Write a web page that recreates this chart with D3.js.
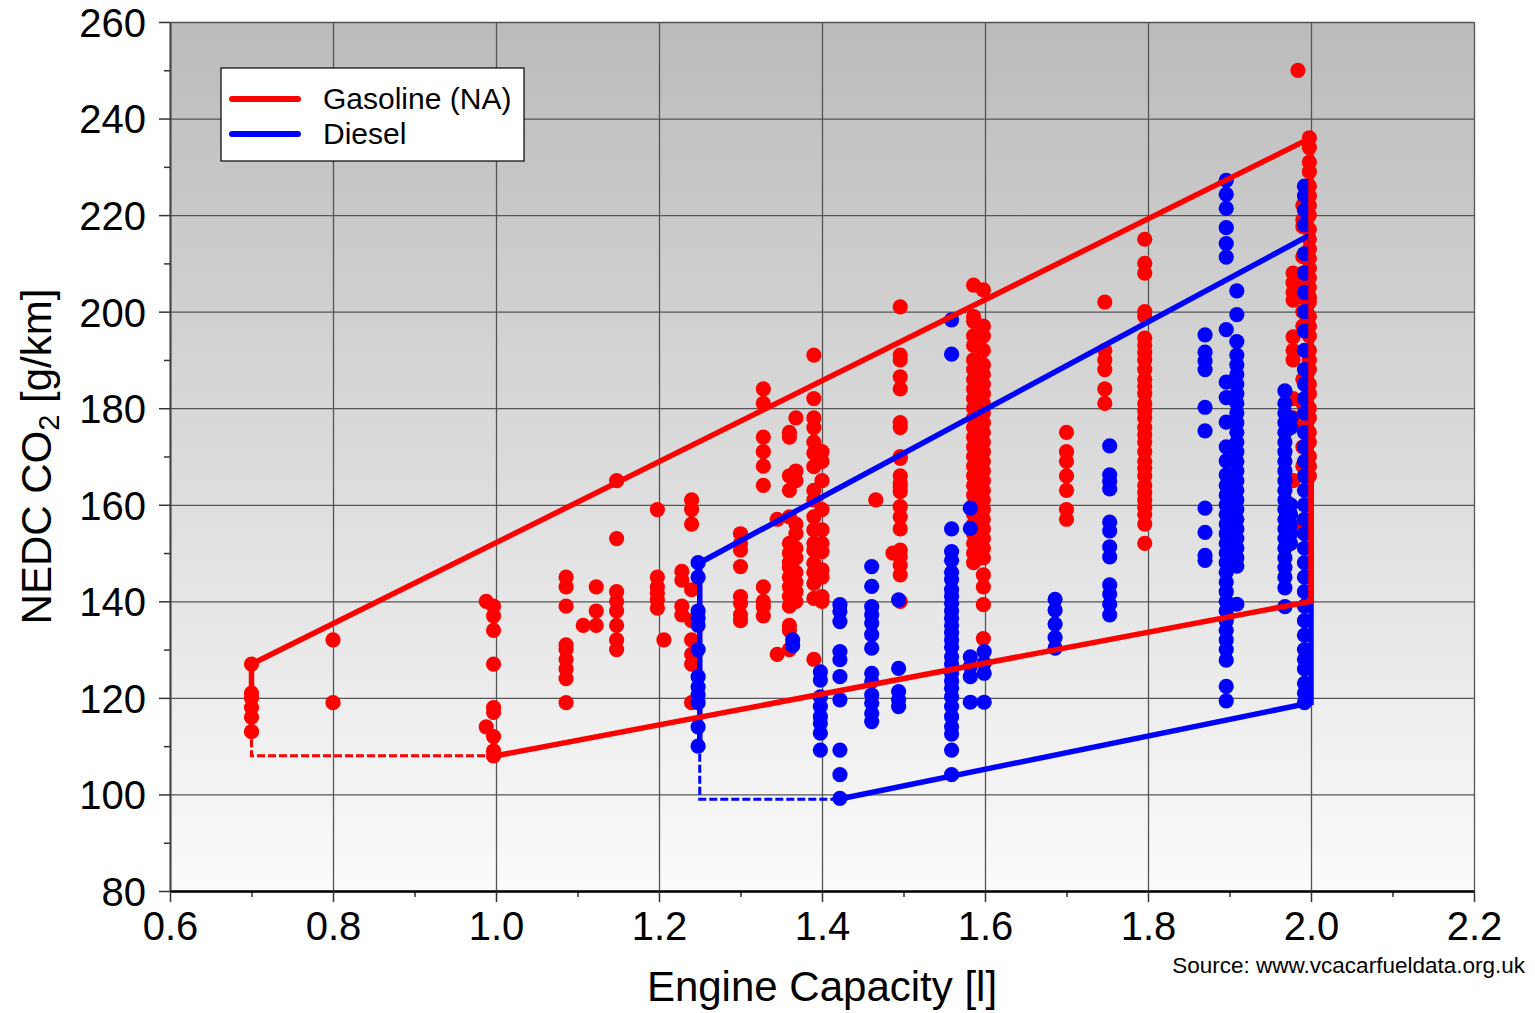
<!DOCTYPE html>
<html>
<head>
<meta charset="utf-8">
<script src="https://cdn.jsdelivr.net/npm/d3@7"></script>
<style>
  html, body { margin: 0; background: #fff; }
  svg { display: block; font-family: "Liberation Sans", Arial, sans-serif; }
</style>
</head>
<body>
<svg id="chart" width="1535" height="1013"></svg>
<script>
// Axis ticks
const xTicks = [0.6, 0.8, 1.0, 1.2, 1.4, 1.6, 1.8, 2.0, 2.2]
const xMinorTicks = [0.7, 0.9, 1.1, 1.3, 1.5, 1.7, 1.9, 2.1]
const yTicks = [80, 100, 120, 140, 160, 180, 200, 220, 240, 260]
const yMinorTicks = [90, 110, 130, 150, 170, 190, 210, 230, 250]

// Gasoline (NA) models: [engine capacity, CO2 values]
const gasolineColumns = [
  [0.70, [127, 121, 120, 118, 116, 113]],
  [0.80, [132, 119]],
  [0.988, [140, 114]],
  [0.997, [139, 137, 134, 127, 118, 117, 112, 109, 108]],
  [1.086, [145, 143, 139, 131, 130, 128, 126, 124, 119]],
  [1.107, [135]],
  [1.123, [143, 138, 135]],
  [1.148, [165, 153, 142, 140, 138, 135, 132, 130]],
  [1.198, [159, 145, 143, 141.7, 140.3, 138.6]],
  [1.206, [132]],
  [1.228, [146.2, 144.4, 139, 137.2]],
  [1.24, [161, 159, 156, 142.4, 136, 132, 129, 127, 119]],
  [1.30, [154, 152, 150.6, 147.2, 141, 139.6, 137.2, 136]],
  [1.328, [184, 181, 174, 171, 168, 164, 143, 140, 138.9, 137]],
  [1.345, [157, 129]],
  [1.36, [175, 174, 166, 163, 157.5, 152, 150, 148, 147, 145, 143, 141, 139, 135, 134, 130]],
  [1.368, [178, 167, 165, 156, 154, 151, 149, 146, 144, 142, 140]],
  [1.39, [191, 182, 178, 176, 173, 170.7, 167.9, 163, 161, 157.5, 154.8, 150.6, 147.9, 152, 146, 143.7, 140.6, 128]],
  [1.40, [171, 169, 165, 159, 154.8, 152, 150.3, 146.5, 145, 141, 140]],
  [1.466, [161]],
  [1.487, [150]],
  [1.496, [201, 191, 190, 186.5, 184, 177, 176, 170, 169.6, 166, 164.5, 163.7, 162.7, 159.6, 157.5, 155, 150.6, 149.3, 147.5, 145.5, 140]],
  [1.586, [205.5, 199, 198, 195, 193, 190, 188, 186, 184, 182, 180, 178, 176, 174, 172, 170, 168, 166, 164, 162, 160, 158, 156, 154, 152, 150, 148]],
  [1.598, [204.5, 197, 195, 192, 189, 187, 185, 183, 181, 179, 177, 175, 173, 171, 169, 167, 165, 163, 161, 159, 157, 155, 153, 151, 149, 145.5, 143, 139.3, 132.3]],
  [1.70, [175, 171, 169, 166, 163, 159, 157]],
  [1.747, [202, 192, 190, 188, 184, 181]],
  [1.796, [215, 210, 208, 200, 199, 194.5, 193, 191.5, 190, 188, 186, 184.5, 183, 181, 179.5, 178, 176, 174.5, 173, 171, 169, 167.5, 166, 164, 162.5, 161, 159.5, 158, 156, 152]],
  [1.984, [250]],
  [1.978, [208, 206, 204, 202.4, 194.8, 192, 190, 182, 178, 165]],
  [1.99, [222, 219, 217.6, 211.4, 208, 205, 203, 200, 197, 186, 181, 176, 172, 168, 155]],
  [1.998, [236, 234, 231, 229, 226, 224, 222, 220, 217, 215, 213, 211, 209, 207, 205, 203, 202, 199, 197, 195, 192, 190, 188, 185, 183, 180, 178, 175, 173, 170, 168, 166]]
]

// Diesel models: [engine capacity, CO2 values]
const dieselColumns = [
  [1.248, [148, 145, 138, 136.5, 135, 130, 124.4, 122.3, 120.6, 119, 114, 110]],
  [1.364, [132, 130.8]],
  [1.398, [125.4, 123.7, 120.2, 118.2, 116.1, 114.7, 112.7, 109.2]],
  [1.422, [139.3, 137.9, 135.8, 129.6, 127.9, 124.4, 119.6, 109.2, 104.1, 99.2]],
  [1.461, [147.2, 143.1, 138.9, 137.2, 135.5, 133.1, 130.3, 125.1, 123.4, 120.6, 118.9, 116.8, 115.1]],
  [1.494, [140.3, 126.1, 121.3, 119.6, 118.2]],
  [1.559, [198.3, 191.2, 155, 150.3, 148.5, 146, 144.5, 142.4, 141, 139.6, 138, 136.5, 135, 133.5, 132, 130.5, 128.5, 127, 125.1, 123.5, 122, 120.2, 118.2, 116.1, 114, 112.5, 109.2, 104.1]],
  [1.582, [159.3, 155.1, 128.5, 126.5, 124.4, 119.1]],
  [1.599, [129.6, 127.2, 125.1, 119.1]],
  [1.686, [140.4, 138.2, 135.3, 132.5, 130.3]],
  [1.753, [172.2, 166.2, 164.8, 163.3, 156.4, 154.6, 151.3, 149.2, 143.4, 141.5, 139.4, 137.2]],
  [1.870, [195.2, 191.6, 189.8, 188, 180.2, 175.3, 159.3, 154.3, 149.5, 148.5]],
  [1.896, [227.2, 224.3, 221.4, 217.4, 214.1, 211.3, 196.3, 185.4, 182.2, 177.1, 172, 169.1, 166.2, 164, 162, 160, 158, 156, 154, 152, 150, 148, 146, 144, 142, 140, 138, 136, 134, 132, 130, 127.8, 122.4, 119.4]],
  [1.909, [204.3, 199.4, 193.8, 191, 189, 187, 185, 183, 181, 179, 177, 175, 173, 171, 169, 167, 165, 163, 161, 159, 157, 155, 153, 151, 149, 147.3, 139.4]],
  [1.968, [183.6, 181, 179, 177, 175, 173, 171, 169, 167, 165, 163, 161, 159, 157, 155, 153, 151, 149, 147, 145, 142.8, 138.9]],
  [1.975, [178, 176, 160, 158, 156, 154, 152]],
  [1.992, [226, 224, 221, 218, 212, 208, 204, 200, 196, 192, 188, 185, 182, 179, 175, 172, 169, 166, 163, 160, 157, 154, 151, 148, 145, 142, 139, 136, 133, 130, 128, 126, 123, 121, 119]]
]

// Envelope lines: solid part and dashed extension
const gasolineEnvelope = [[0.7, 113], [0.7, 127], [2.0, 236], [2.0, 140], [1.0, 108]]
const gasolineDashed = [[1.0, 108], [0.7, 108], [0.7, 113]]
const dieselEnvelope = [[1.25, 110], [1.25, 148], [2.0, 216], [2.0, 119], [1.42, 99]]
const dieselDashed = [[1.42, 99], [1.25, 99], [1.25, 110]]

const series = [
  { name: 'Gasoline (NA)', color: '#ff0000', columns: gasolineColumns, solid: gasolineEnvelope, dashed: gasolineDashed },
  { name: 'Diesel', color: '#0000ff', columns: dieselColumns, solid: dieselEnvelope, dashed: dieselDashed }
]

const width = 1535
const height = 1013
const margin = { top: 22, right: 61, bottom: 122, left: 170 }
const innerWidth = width - margin.left - margin.right
const innerHeight = height - margin.top - margin.bottom

const svg = d3.select('#chart')

const x = d3.scaleLinear().domain([0.6, 2.2]).range([0, innerWidth])
const y = d3.scaleLinear().domain([80, 260]).range([innerHeight, 0])

// Background gradient
const grad = svg.append('defs').append('linearGradient')
  .attr('id', 'bg').attr('x1', 0).attr('y1', 0).attr('x2', 0).attr('y2', 1)
grad.append('stop').attr('offset', '0%').attr('stop-color', '#bbbbbb')
grad.append('stop').attr('offset', '100%').attr('stop-color', '#fbfbfb')

const g = svg.append('g')
  .attr('transform', `translate(${margin.left},${margin.top})`)

g.append('rect')
  .attr('width', innerWidth)
  .attr('height', innerHeight)
  .attr('fill', 'url(#bg)')

// Grid lines and minor ticks (no labels)
function plainAxis(axis, transform, stroke, widthPx) {
  g.append('g')
    .attr('transform', transform)
    .call(axis)
    .call((s) => s.select('.domain').remove())
    .call((s) => s.selectAll('text').remove())
    .call((s) => s.selectAll('line').attr('stroke', stroke).attr('stroke-width', widthPx))
}
plainAxis(d3.axisLeft(y).tickValues(yTicks).tickSize(-innerWidth), null, '#555', 1.3)
plainAxis(d3.axisBottom(x).tickValues(xTicks).tickSize(-innerHeight), `translate(0,${innerHeight})`, '#555', 1.3)
plainAxis(d3.axisLeft(y).tickValues(yMinorTicks).tickSize(6), null, '#333', 1.5)
plainAxis(d3.axisBottom(x).tickValues(xMinorTicks).tickSize(6), `translate(0,${innerHeight})`, '#333', 1.5)

// Y axis
g.append('g')
  .attr('class', 'axis')
  .call(d3.axisLeft(y).tickValues(yTicks).tickSize(11).tickPadding(13).tickSizeOuter(0))
  .call((s) => s.select('.domain').attr('stroke', '#444').attr('stroke-width', 2))
  .call((s) => s.selectAll('line').attr('stroke', '#333').attr('stroke-width', 1.5))
  .call((s) => s.selectAll('text')
    .attr('fill', '#000')
    .attr('font-size', 40)
    .attr('font-family', '"Liberation Sans", Arial, sans-serif')
    .attr('dy', '0.36em'))

// X axis
g.append('g')
  .attr('class', 'axis')
  .attr('transform', `translate(0,${innerHeight})`)
  .call(d3.axisBottom(x).tickValues(xTicks).tickSize(11).tickPadding(10).tickSizeOuter(0).tickFormat(d3.format('.1f')))
  .call((s) => s.select('.domain').attr('stroke', '#000').attr('stroke-width', 2.5))
  .call((s) => s.selectAll('line').attr('stroke', '#333').attr('stroke-width', 1.5))
  .call((s) => s.selectAll('text')
    .attr('fill', '#000')
    .attr('font-size', 40)
    .attr('font-family', '"Liberation Sans", Arial, sans-serif'))

// Dots: gasoline first, diesel on top
for (const s of series) {
  const pts = s.columns.flatMap(([cc, vals]) => vals.map((v) => ({ cc, v })))
  g.append('g')
    .selectAll('circle')
    .data(pts)
    .join('circle')
    .attr('cx', (d) => x(d.cc))
    .attr('cy', (d) => y(d.v))
    .attr('r', 7.6)
    .attr('fill', s.color)
}

// Envelope lines: diesel first, gasoline on top
const line = d3.line().x((d) => x(d[0])).y((d) => y(d[1]))
for (const s of [series[1], series[0]]) {
  g.append('path')
    .attr('d', line(s.dashed))
    .attr('fill', 'none')
    .attr('stroke', s.color)
    .attr('stroke-width', 3)
    .attr('stroke-dasharray', '8,3')
  g.append('path')
    .attr('d', line(s.solid))
    .attr('fill', 'none')
    .attr('stroke', s.color)
    .attr('stroke-width', 5.5)
    .attr('stroke-linejoin', 'miter')
}

// Legend
const legend = svg.append('g').attr('transform', 'translate(221,68)')
legend.append('rect')
  .attr('width', 303)
  .attr('height', 93)
  .attr('fill', '#fff')
  .attr('stroke', '#000')
  .attr('stroke-width', 1.2)
series.forEach((s, i) => {
  const row = legend.append('g').attr('transform', `translate(0,${31 + i * 35})`)
  row.append('line')
    .attr('x1', 11).attr('x2', 77)
    .attr('stroke', s.color)
    .attr('stroke-width', 6)
    .attr('stroke-linecap', 'round')
  row.append('text')
    .attr('x', 102)
    .attr('y', 10)
    .attr('font-size', 30)
    .attr('fill', '#000')
    .text(s.name)
})

// Axis titles
svg.append('text')
  .attr('x', margin.left + innerWidth / 2)
  .attr('y', 1001)
  .attr('text-anchor', 'middle')
  .attr('font-size', 42)
  .attr('fill', '#000')
  .text('Engine Capacity [l]')

const yTitle = svg.append('text')
  .attr('transform', `translate(51,${margin.top + innerHeight / 2}) rotate(-90)`)
  .attr('text-anchor', 'middle')
  .attr('font-size', 42)
  .attr('fill', '#000')
yTitle.append('tspan').text('NEDC CO')
yTitle.append('tspan').attr('font-size', 29).attr('dy', 8).text('2')
yTitle.append('tspan').attr('dy', -8).text(' [g/km]')

svg.append('text')
  .attr('x', 1525)
  .attr('y', 973)
  .attr('text-anchor', 'end')
  .attr('font-size', 22.5)
  .attr('fill', '#000')
  .text('Source: www.vcacarfueldata.org.uk')
</script>
</body>
</html>
